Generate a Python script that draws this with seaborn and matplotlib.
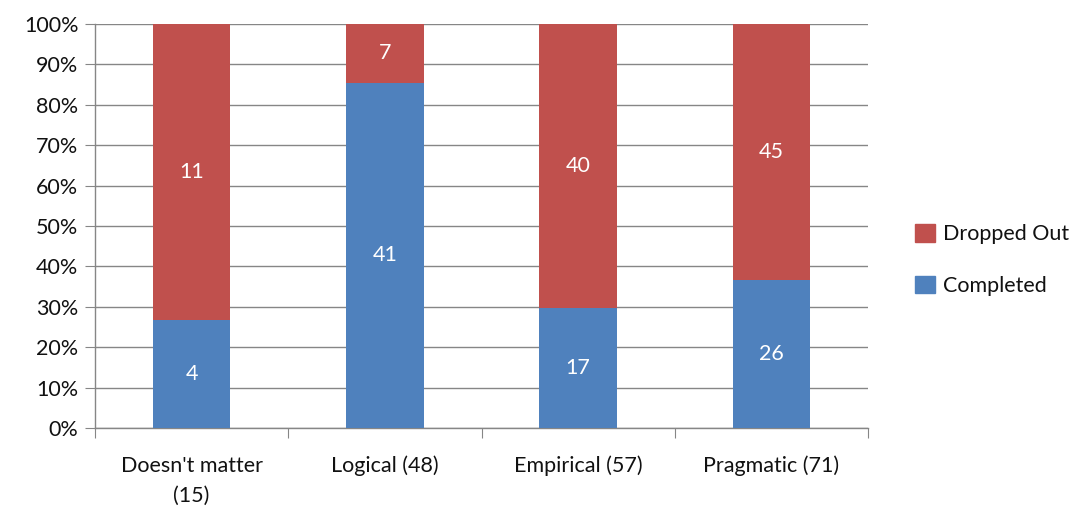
import numpy as np
import pandas as pd
import matplotlib
matplotlib.use("Agg")
import matplotlib.pyplot as plt
import seaborn as sns
from matplotlib.patches import Patch

categories = ["Doesn't matter\n(15)", "Logical (48)", "Empirical (57)", "Pragmatic (71)"]
completed = [4, 41, 17, 26]
dropped = [11, 7, 40, 45]

sns.set_style("white")
plt.rcParams['font.family'] = ['Lato', 'DejaVu Sans']
plt.rcParams['text.color'] = '#111111'

total = np.array(completed) + np.array(dropped)
comp_pct = np.array(completed) / total * 100
drop_pct = np.array(dropped) / total * 100

df = pd.DataFrame({"cat": categories, "total": comp_pct + drop_pct, "comp": comp_pct})

red = "#C0504D"
blue = "#4F81BD"
grid = "#868686"
fs = 15.5

fig = plt.figure(figsize=(10.77, 5.07), dpi=100)
ax = fig.add_axes([95 / 1077, 1 - 428 / 507, 773 / 1077, 404 / 507])

sns.barplot(data=df, x="cat", y="total", color=red, saturation=1, width=0.4, ax=ax,
            zorder=3, linewidth=0)
sns.barplot(data=df, x="cat", y="comp", color=blue, saturation=1, width=0.4, ax=ax,
            zorder=3, linewidth=0)

for i in range(len(categories)):
    ax.text(i, comp_pct[i] / 2, str(completed[i]), ha="center", va="center",
            color="white", fontsize=fs, zorder=4)
    ax.text(i, comp_pct[i] + drop_pct[i] / 2, str(dropped[i]), ha="center", va="center",
            color="white", fontsize=fs, zorder=4)

ax.set_ylim(0, 100)
ax.set_xlim(-0.5, len(categories) - 0.5)
ax.set_yticks(np.arange(0, 101, 10))
ax.set_yticklabels([f"{v}%" for v in range(0, 101, 10)])
ax.yaxis.grid(True, color=grid, linewidth=1, zorder=0)
ax.set_axisbelow(True)
ax.set_xlabel("")
ax.set_ylabel("")

ax.set_xticks(np.arange(-0.5, len(categories), 1))
ax.set_xticklabels([])
ax.set_xticks(np.arange(len(categories)), minor=True)
ax.set_xticklabels(categories, minor=True, linespacing=1.6, color="#111111")
ax.tick_params(axis="x", which="minor", length=0, pad=20, labelsize=fs)
ax.tick_params(axis="x", which="major", length=7, color=grid, direction="out", bottom=True)
ax.tick_params(axis="y", length=7, color=grid, direction="out", left=True, labelsize=fs,
               pad=5, labelcolor="#111111")

for s in ["top", "right"]:
    ax.spines[s].set_visible(False)
for s in ["left", "bottom"]:
    ax.spines[s].set_color(grid)
    ax.spines[s].set_linewidth(1)

handles = [Patch(color=red, label="Dropped Out"), Patch(color=blue, label="Completed")]
fig.legend(handles=handles, loc="center left", bbox_to_anchor=(896 / 1077, 1 - 260 / 507),
           frameon=False, fontsize=fs, handlelength=0.9, handleheight=0.9,
           handletextpad=0.4, labelspacing=1.45)

fig.savefig("out.png", dpi=100)
